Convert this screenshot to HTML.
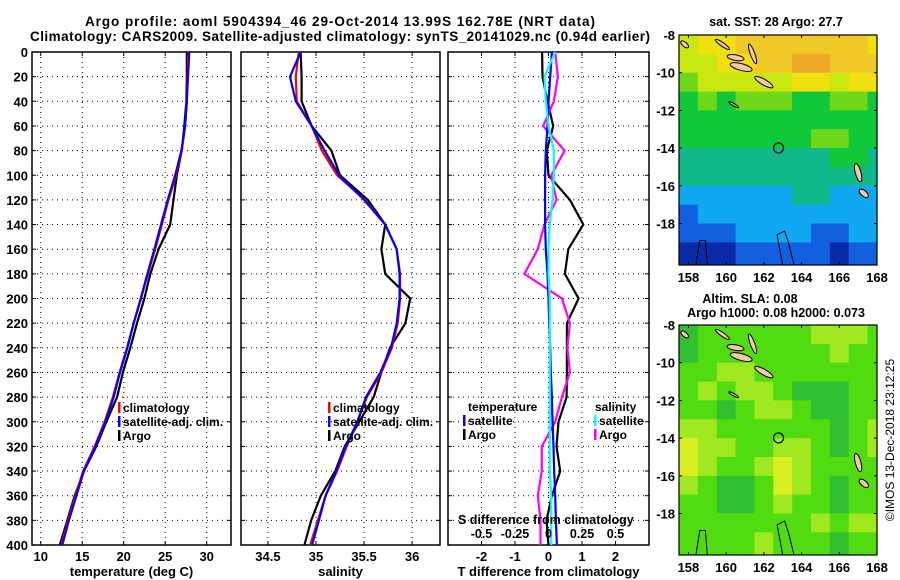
<!DOCTYPE html>
<html><head><meta charset="utf-8"><style>
html,body{margin:0;padding:0;background:#fff;}
svg{display:block;font-family:"Liberation Sans",sans-serif;font-weight:bold;}
</style></head><body>
<svg id="c" width="900" height="580" viewBox="0 0 900 580" xmlns="http://www.w3.org/2000/svg">
<text x="340" y="26" text-anchor="middle" font-size="13.5" textLength="510">Argo profile: aoml 5904394_46 29-Oct-2014 13.99S 162.78E (NRT data)</text>
<text x="340" y="41" text-anchor="middle" font-size="13.5" textLength="620">Climatology: CARS2009. Satellite-adjusted climatology: synTS_20141029.nc (0.94d earlier)</text>
</svg>
<script>
const depths=[0,20,40,60,80,100,120,140,160,180,200,220,240,260,280,300,320,340,360,380,400];
const tClim=[27.8,27.7,27.6,27.4,27.0,26.3,25.4,24.6,23.8,22.9,22.1,21.2,20.4,19.5,18.7,17.7,16.5,15.1,14.2,13.3,12.5];
const tSat=[27.9,27.75,27.6,27.4,26.95,26.2,25.3,24.5,23.7,22.85,22.05,21.2,20.45,19.55,18.8,17.8,16.6,15.2,14.3,13.4,12.6];
const tArgo=[27.6,27.6,27.55,27.3,27.0,26.4,26.0,25.6,24.2,23.2,22.5,21.6,20.8,19.9,19.2,17.9,16.7,15.2,14.1,13.2,12.3];
const sClim=[34.82,34.79,34.8,34.955,35.06,35.22,35.51,35.72,35.84,35.875,35.875,35.85,35.79,35.68,35.53,35.43,35.32,35.22,35.1,35.02,34.94];
const sSat=[34.84,34.73,34.79,34.955,35.09,35.24,35.5,35.72,35.84,35.87,35.87,35.84,35.78,35.67,35.52,35.43,35.31,35.21,35.1,35.03,34.96];
const sArgo=[34.84,34.85,34.85,34.955,35.16,35.25,35.54,35.72,35.68,35.72,35.98,35.93,35.77,35.68,35.6,35.45,35.3,35.2,35.05,34.95,34.88];
const dTSat=[0.1,0.05,0.0,-0.03,-0.08,-0.1,-0.1,-0.1,-0.08,-0.03,0,0.02,0.05,0.07,0.1,0.12,0.15,0.17,0.2,0.22,0.25];
const dTArgo=[-0.19,-0.18,-0.03,0.14,-0.05,0.0,0.64,1.04,0.59,0.49,0.9,0.55,0.55,0.55,0.54,0.3,0.24,0.35,0.1,-0.06,0.0];
const dSSat=[0.05,-0.03,-0.02,0.0,0.04,0.04,0.03,0.01,0.0,0.0,0.01,0.01,0.01,0.01,0.01,0.01,0.01,0.01,0.02,0.02,0.02];
const dSArgo=[0.05,0.07,0.04,-0.04,0.12,0.02,0.06,-0.03,-0.08,-0.18,0.1,0.16,0.14,0.16,0.1,0.05,-0.05,-0.05,-0.08,-0.06,-0.06];
const depthTicks=[0,20,40,60,80,100,120,140,160,180,200,220,240,260,280,300,320,340,360,380,400];
const tTicks=[10,15,20,25,30];
const sTicks=[34.5,35,35.5,36];
const dTTicks=[-2,-1,0,1,2];
const dSTicks=[-0.5,-0.25,0,0.25,0.5];
const latTicks=[-8,-10,-12,-14,-16,-18];
const lonTicks=[158,160,162,164,166,168];
const sstGrid=[
[6,7,7,8,8,8,8,8,8,8,7],[6,6,7,7,8,8,9,9,8,8,8],[5,6,6,6,6,6,7,7,6,7,7],[4,5,4,5,5,5,4,4,5,5,4],
[4,4,4,4,4,4,4,4,4,4,4],[4,4,4,4,4,4,4,5,5,4,4],[3,3,3,3,3,3,3,3,4,4,3],[3,3,3,3,3,3,3,3,3,3,3],
[2,2,2,2,2,2,3,3,2,2,2],[1,2,2,2,2,2,2,2,2,2,2],[1,1,1,2,2,2,2,1,1,2,2],[0,0,0,1,1,1,1,1,0,1,1]];
const slaGrid=[
[1,2,2,2,2,2,2,3,3,3,2],[1,2,2,2,2,2,2,2,3,2,2],[2,2,3,3,2,2,2,2,2,2,2],[2,3,2,3,3,2,1,1,1,2,2],
[2,2,1,2,3,3,2,1,1,2,2],[3,3,2,2,2,2,2,2,1,2,3],[4,3,3,2,2,3,3,2,1,2,3],[4,3,2,2,3,4,3,2,2,2,2],
[3,2,1,1,2,4,3,2,1,2,2],[2,2,1,1,2,3,2,2,1,2,2],[2,2,2,2,2,2,2,3,2,3,3],[2,2,2,2,3,2,2,2,1,2,2]];
const sstColors=['#0a2aa8','#1060e0','#10a8f0','#10b88a','#10c83a','#70d81a','#c8e810','#f0e010','#f0c828','#f0a828'];
const slaColors=['#10a050','#30c030','#50dc10','#a0e820','#d8f020'];
const islands=[[157.8,-8.5,0.25,0.12,40],[159.8,-8.5,0.45,0.1,35],[160.5,-9.2,0.45,0.15,10],[161.4,-9.0,0.12,0.55,-20],[160.8,-9.7,0.6,0.18,15],[162.0,-10.5,0.55,0.15,30],[160.4,-11.7,0.3,0.06,30],[167.0,-15.3,0.15,0.5,-15],[167.3,-16.4,0.3,0.15,40]];
const NS='http://www.w3.org/2000/svg';
const svg=document.getElementById('c');
function mk(tag,at,parent){const e=document.createElementNS(NS,tag);for(const k in at)e.setAttribute(k,at[k]);(parent||svg).appendChild(e);return e;}
const Y0=52,Y1=545;
const yD=d=>Y0+(d/400)*(Y1-Y0);
function lin(d0,d1,r0,r1){return v=>r0+(v-d0)/(d1-d0)*(r1-r0);}
const panels=[
 {x0:32,x1:231,dom:[8.95,32.93],ticks:tTicks,title:'temperature (deg C)',name:'temperature'},
 {x0:241,x1:440,dom:[34.22,36.29],ticks:sTicks,title:'salinity',name:'salinity'},
 {x0:448,x1:649,dom:[-3,3],ticks:dTTicks,title:'T difference from climatology',name:'difference'}];
panels.forEach((p,pi)=>{
 const g=mk('g',{});
 
 
 p.x=lin(p.dom[0],p.dom[1],p.x0,p.x1);
 depthTicks.forEach(d=>{
  const l=mk('line',{x1:p.x0,x2:p.x1,y1:yD(d),y2:yD(d),stroke:'#000','stroke-width':1,'stroke-dasharray':'1 4'},g);
  
  mk('line',{x1:p.x0,x2:p.x0+4,y1:yD(d),y2:yD(d),stroke:'#000'},g);
  mk('line',{x1:p.x1-4,x2:p.x1,y1:yD(d),y2:yD(d),stroke:'#000'},g);
  if(pi===0){const t=mk('text',{x:28,y:yD(d)+5,'text-anchor':'end','font-size':13},g);t.textContent=d;
   }
 });
 p.ticks.forEach(v=>{
  const x=p.x(v);
  mk('line',{x1:x,x2:x,y1:Y0,y2:Y1,stroke:'#000','stroke-dasharray':'1 4'},g);
  mk('line',{x1:x,x2:x,y1:Y1-4,y2:Y1,stroke:'#000'},g);
  mk('line',{x1:x,x2:x,y1:Y0,y2:Y0+4,stroke:'#000'},g);
  const t=mk('text',{x:x,y:561,'text-anchor':'middle','font-size':13},g);t.textContent=v;
  
 });
 const r=mk('rect',{x:p.x0,y:Y0,width:p.x1-p.x0,height:Y1-Y0,fill:'none',stroke:'#000','stroke-width':1.5},g);
 
 const t=mk('text',{x:(p.x0+p.x1)/2,y:576,'text-anchor':'middle','font-size':13},g);t.textContent=p.title;
 
});
function line(xf,vals,color,name){
 const pts=vals.map((v,i)=>xf(v).toFixed(1)+','+yD(depths[i]).toFixed(1)).join(' ');
 const pl=mk('polyline',{points:pts,fill:'none',stroke:color,'stroke-width':2.2});
 
 
}
line(panels[0].x,tArgo,'#000','temperature-argo-line');
line(panels[0].x,tClim,'#f00','temperature-climatology-line');
line(panels[0].x,tSat,'#00f','temperature-satellite-line');
line(panels[1].x,sArgo,'#000','salinity-argo-line');
line(panels[1].x,sClim,'#f00','salinity-climatology-line');
line(panels[1].x,sSat,'#00f','salinity-satellite-line');
const sx=lin(-0.75,0.75,448,649);
line(panels[2].x,dTArgo,'#000','t-diff-argo-line');
line(sx,dSArgo,'#f0f','s-diff-argo-line');
line(panels[2].x,dTSat,'#00f','t-diff-satellite-line');
line(sx,dSSat,'#0ff','s-diff-satellite-line');
function legend(x,y,color,label,name){
 const g=mk('g',{});
 
 mk('rect',{x:x-5,y:y-10,width:2.5,height:11,fill:color},g);
 const t=mk('text',{x:x,y:y,'font-size':12},g);t.textContent=label;
}
legend(123,412,'#f00','climatology','legend-climatology');
legend(123,426,'#00f','satellite-adj. clim.','legend-satellite-adj');
legend(123,440,'#000','Argo','legend-argo');
legend(333,412,'#f00','climatology','legend-climatology-2');
legend(333,426,'#00f','satellite-adj. clim.','legend-satellite-adj-2');
legend(333,440,'#000','Argo','legend-argo-2');
(function(){const t=mk('text',{x:468,y:411,'font-size':12});t.textContent='temperature';
const t2=mk('text',{x:595,y:411,'font-size':12});t2.textContent='salinity';})();
legend(468,425,'#00f','satellite','legend-t-satellite');
legend(468,439,'#000','Argo','legend-t-argo');
legend(599,425,'#0ff','satellite','legend-s-satellite');
legend(599,439,'#f0f','Argo','legend-s-argo');
(function(){const t=mk('text',{x:458,y:524,'font-size':12.5});t.textContent='S difference from climatology';
dSTicks.forEach(v=>{const l=mk('text',{x:sx(v),y:538,'text-anchor':'middle','font-size':12.5});l.textContent=v;});})();
function map(top,grid,colors,name){
 const x0=679,x1=877,y0=top,y1=top+230;
 const lx=lin(157.5,168,x0,x1), ly=lin(-8,-20.2,y0,y1);
 const g=mk('g',{});
 
 const cp=mk('clipPath',{id:name+'-clip'},g);mk('rect',{x:x0,y:y0,width:x1-x0,height:y1-y0},cp);
 const cg=mk('g',{'clip-path':'url(#'+name+'-clip)'},g);
 grid.forEach((row,ri)=>row.forEach((v,ci)=>{
  const c=mk('rect',{x:lx(157.5+ci),y:ly(-8-ri),width:lx(158.5)-lx(157.5)+0.5,height:ly(-9-ri)-ly(-8-ri)+(ri===11?10:0.5),fill:colors[v]},cg);
  
 }));
 islands.forEach(s=>{const cx=lx(s[0]),cy=ly(s[1]);const e=mk('ellipse',{cx:cx,cy:cy,rx:lx(157.5+s[2])-x0,ry:ly(-8-s[3])-y0,fill:'#f8c8a0',stroke:'#000','stroke-width':1,transform:`rotate(${s[4]} ${cx} ${cy})`},cg);
  });
 mk('path',{d:`M${lx(158.4)} ${y1} L${lx(158.6)} ${ly(-18.9)} L${lx(158.9)} ${ly(-18.9)} L${lx(159.0)} ${y1}`,fill:'none',stroke:'#000'},cg);
 mk('path',{d:`M${lx(163.0)} ${y1} L${lx(162.7)} ${ly(-18.6)} L${lx(163.1)} ${ly(-18.4)} L${lx(163.3)} ${ly(-19.0)} L${lx(163.6)} ${y1}`,fill:'none',stroke:'#000'},cg);
 const ci=mk('circle',{cx:lx(162.78),cy:ly(-13.99),r:5,fill:'none',stroke:'#000','stroke-width':1.2},g);
 
 mk('rect',{x:x0,y:y0,width:x1-x0,height:y1-y0,fill:'none',stroke:'#000','stroke-width':1.2},g);
 latTicks.forEach(v=>{const t=mk('text',{x:675,y:ly(v)+5,'text-anchor':'end','font-size':13},g);t.textContent=v;
  
  mk('line',{x1:x0,x2:x0+3,y1:ly(v),y2:ly(v),stroke:'#000'},g);mk('line',{x1:x1-3,x2:x1,y1:ly(v),y2:ly(v),stroke:'#000'},g);});
 lonTicks.forEach(v=>{const t=mk('text',{x:lx(v),y:y1+17,'text-anchor':'middle','font-size':13},g);t.textContent=v;
  
  mk('line',{x1:lx(v),x2:lx(v),y1:y1-3,y2:y1,stroke:'#000'},g);mk('line',{x1:lx(v),x2:lx(v),y1:y0,y2:y0+3,stroke:'#000'},g);});
}
map(35,sstGrid,sstColors,'sst-map');
map(325,slaGrid,slaColors,'sla-map');
function txt(x,y,s,name,extra){const t=mk('text',Object.assign({x:x,y:y,'text-anchor':'middle','font-size':12.5},extra||{}));t.textContent=s;}
txt(776,26,'sat. SST: 28 Argo: 27.7','sst-map-title');
txt(750,303,'Altim. SLA: 0.08','sla-map-title');
txt(776,317,'Argo h1000: 0.08 h2000: 0.073','argo-height-title');
txt(894,440,'©IMOS 13-Dec-2018 23:12:25','timestamp-label',{transform:'rotate(-90 894 440)','font-weight':'normal','font-size':12});
</script>
</body></html>
